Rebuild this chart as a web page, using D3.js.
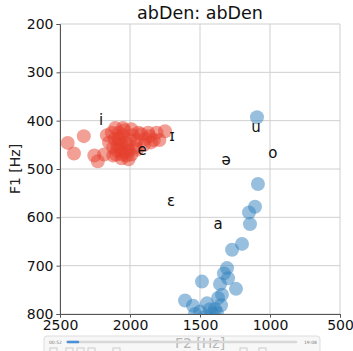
<!DOCTYPE html>
<html>
<head>
<meta charset="utf-8">
<script src="https://cdn.jsdelivr.net/npm/d3@7"></script>
<style>
  body { margin: 0; background: #fff; }
  text { font-family: "DejaVu Sans", sans-serif; }
</style>
</head>
<body>
<div id="chart"></div>
<script>
var width = 353;
var height = 351;
var margin = {top: 24, right: 13, bottom: 37, left: 60};

// F2 / F1 values
let redF2 = [2445,2400,2330,2255,2230,2185,2165,2105,2050,1990,1920,1890,1860,1810,1750,1790,1850,1900,1960,1990,
             2010,2060,2100,2120,2080,2050,2030,2070,2090,2040,2020,2060,2110,2130,2000,1950,1980,2040,2080,2010,
             2055,2095,2025,2075,1940,1870,1830,1950,2150,2120];
let redF1 = [446,468,432,472,484,470,430,415,415,418,428,438,432,425,422,440,445,450,455,470,
             480,478,470,455,440,430,445,460,450,465,455,448,438,425,440,440,430,420,425,462,
             470,462,472,435,425,425,440,460,445,472];

let blueF2 = [1093,1086,1107,1150,1143,1200,1271,1307,1329,1300,1357,1243,1486,1343,1371,1607,1550,1450,1429,1500,
              1393,1536,1410,1380,1460,1350];
let blueF1 = [393,531,578,590,614,655,667,705,716,726,738,748,733,760,767,772,783,778,790,795,
              790,800,800,797,805,782];

let vowels = ["i","ɪ","e","u","ə","o","ɛ","a"];
let vowelF2 = [2207,1700,1914,1100,1314,979,1707,1371];
let vowelF1 = [399,432,461,413,481,467,566,614];

let xTicks = [2500,2000,1500,1000,500];
let yTicks = [200,300,400,500,600,700,800];

let redData = redF2.map((d,i) => ({f2: d, f1: redF1[i]}));
let blueData = blueF2.map((d,i) => ({f2: d, f1: blueF1[i]}));
let labelData = vowels.map((d,i) => ({v: d, f2: vowelF2[i], f1: vowelF1[i]}));

let x = d3.scaleLinear().domain([2500, 500]).range([margin.left, width - margin.right]);
let y = d3.scaleLinear().domain([200, 800]).range([margin.top, height - margin.bottom]);

var svg = d3.select("#chart")
            .append("svg")
              .attr("width", width).attr("height", height);

svg.append("clipPath").attr("id","plotclip")
   .append("rect")
   .attr("x", margin.left).attr("y", margin.top)
   .attr("width", width - margin.left - margin.right)
   .attr("height", height - margin.top - margin.bottom);

// grid
svg.append("g").selectAll("line").data(xTicks).join("line")
   .attr("x1", d => x(d)).attr("x2", d => x(d))
   .attr("y1", margin.top).attr("y2", height - margin.bottom)
   .attr("stroke", "#cfcfcf").attr("stroke-width", 1);
svg.append("g").selectAll("line").data(yTicks).join("line")
   .attr("x1", margin.left).attr("x2", width - margin.right)
   .attr("y1", d => y(d)).attr("y2", d => y(d))
   .attr("stroke", "#cfcfcf").attr("stroke-width", 1);

// points
let pts = svg.append("g").attr("clip-path", "url(#plotclip)");
pts.selectAll(".red").data(redData).join("circle")
   .attr("class","red")
   .attr("cx", d => x(d.f2)).attr("cy", d => y(d.f1)).attr("r", 7)
   .attr("fill", "#e6402d").attr("fill-opacity", 0.5);
pts.selectAll(".blue").data(blueData).join("circle")
   .attr("class","blue")
   .attr("cx", d => x(d.f2)).attr("cy", d => y(d.f1)).attr("r", 7)
   .attr("fill", "#3182bd").attr("fill-opacity", 0.5);

// vowel labels
svg.append("g").selectAll("text").data(labelData).join("text")
   .attr("x", d => x(d.f2)).attr("y", d => y(d.f1))
   .attr("text-anchor", "middle").attr("dy", "0.35em")
   .attr("font-size", 15).attr("fill", "#111")
   .text(d => d.v);

// axes
let xAxis = svg.append("g").attr("transform", `translate(0,${height - margin.bottom})`)
   .call(d3.axisBottom(x).tickValues(xTicks).tickFormat(d3.format("d")).tickSize(3.5).tickPadding(3));
let yAxis = svg.append("g").attr("transform", `translate(${margin.left},0)`)
   .call(d3.axisLeft(y).tickValues(yTicks).tickFormat(d3.format("d")).tickSize(3.5).tickPadding(3));
[xAxis, yAxis].forEach(a => {
    a.select(".domain").attr("stroke", "#555");
    a.selectAll(".tick line").attr("stroke", "#555");
    a.selectAll(".tick text").attr("font-size", 14).attr("fill", "#111")
     .attr("font-family", "DejaVu Sans, sans-serif");
});

// titles
svg.append("text").attr("x", (margin.left + width - margin.right)/2).attr("y", 19)
   .attr("text-anchor", "middle").attr("font-size", 17.5).attr("fill", "#111")
   .text("abDen: abDen");
svg.append("text").attr("transform", `translate(20,${(margin.top + height - margin.bottom)/2}) rotate(-90)`)
   .attr("text-anchor", "middle").attr("font-size", 14).attr("fill", "#222")
   .text("F1 [Hz]");
svg.append("text").attr("x", (margin.left + width - margin.right)/2).attr("y", 348)
   .attr("text-anchor", "middle").attr("font-size", 14).attr("fill", "#222")
   .text("F2 [Hz]");

// media player bar lying over the bottom
let bar = svg.append("g");
bar.append("rect").attr("x", 44).attr("y", 336).attr("width", 276).attr("height", 20).attr("rx", 3)
   .attr("fill", "#f4f4f4").attr("fill-opacity", 0.7).attr("stroke", "#ddd");
bar.append("line").attr("x1", 67).attr("x2", 296).attr("y1", 342).attr("y2", 342)
   .attr("stroke", "#d8d8d8").attr("stroke-width", 2.5).attr("stroke-linecap","round");
bar.append("line").attr("x1", 68).attr("x2", 78).attr("y1", 342).attr("y2", 342)
   .attr("stroke", "#4a90d9").attr("stroke-width", 2.5).attr("stroke-linecap","round");
bar.append("text").attr("x", 49).attr("y", 344).attr("font-size", 4.5).attr("fill", "#777").text("00:52");
bar.append("text").attr("x", 304).attr("y", 344).attr("font-size", 4.5).attr("fill", "#777").text("19:08");
bar.selectAll(".btn").data([50,66,77,88,113,240,259]).join("rect")
   .attr("x", d => d).attr("y", 348).attr("width", 7).attr("height", 5)
   .attr("fill", "none").attr("stroke", "#ccc");
</script>
</body>
</html>
